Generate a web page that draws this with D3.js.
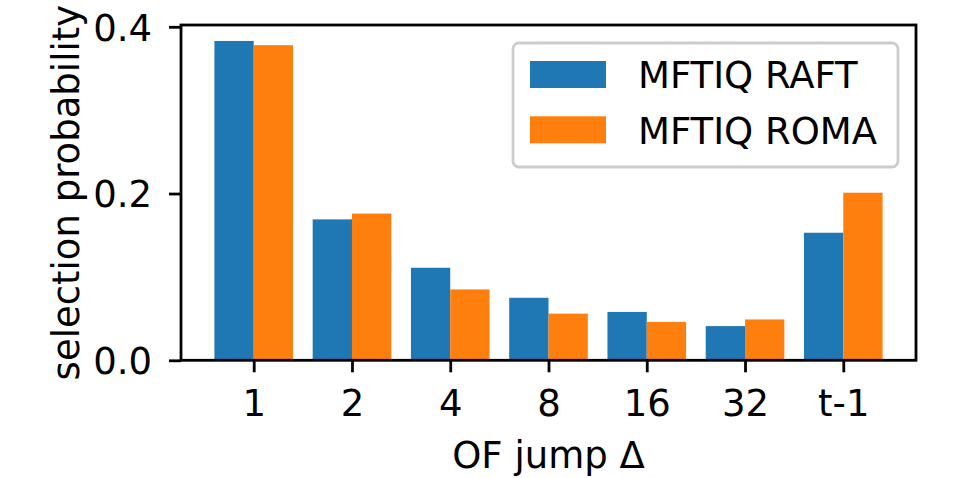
<!DOCTYPE html>
<html>
<head>
<meta charset="utf-8">
<script src="https://cdn.jsdelivr.net/npm/d3@7"></script>
<style>
  html, body { margin: 0; padding: 0; background: #fff; }
  svg { display: block; }
  text { font-family: "DejaVu Sans", sans-serif; fill: #000; }
</style>
</head>
<body>
<svg id="chart" width="957" height="478"></svg>
<script>
const categories = ["1", "2", "4", "8", "16", "32", "t-1"];
const raftValues = [0.383, 0.169, 0.111, 0.075, 0.058, 0.041, 0.153];
const romaValues = [0.378, 0.176, 0.085, 0.056, 0.046, 0.049, 0.201];
const seriesNames = ["MFTIQ RAFT", "MFTIQ ROMA"];
const seriesColors = ["#1f77b4", "#ff7f0e"];
const yTickValues = [0.0, 0.2, 0.4];
const xLabel = "OF jump \u0394";
const yLabel = "selection probability";

(function () {
const svg = d3.select("#chart");
const pLeft = 181, pRight = 916, pTop = 25, pBottom = 360.3;
const lw = 2.8, tickLen = 12, fs = 37, legendFs = 37;

const barW = 0.4;
const n = categories.length;
const xMargin = (n - 1 + 2 * barW) * 0.05;
const x = d3.scaleLinear()
  .domain([-barW - xMargin, n - 1 + barW + xMargin])
  .range([pLeft, pRight]);
const yMax = d3.max([...raftValues, ...romaValues]) * 1.05;
const y = d3.scaleLinear().domain([0, yMax]).range([pBottom, pTop]);

const series = [raftValues, romaValues];

// bars
series.forEach((vals, s) => {
  svg.append("g").selectAll("rect")
    .data(vals)
    .join("rect")
    .attr("x", (d, i) => x(i - barW + s * barW))
    .attr("width", (d, i) => x(i + s * barW) - x(i - barW + s * barW))
    .attr("y", d => y(d))
    .attr("height", d => y(0) - y(d))
    .attr("fill", seriesColors[s]);
});

// y axis
const yAxis = d3.axisLeft(y).tickValues(yTickValues)
  .tickFormat(d3.format(".1f")).tickSize(tickLen).tickPadding(17);
const gy = svg.append("g").attr("transform", `translate(${pLeft},0)`).call(yAxis);
gy.select(".domain").remove();
gy.selectAll(".tick line").attr("stroke", "#000").attr("stroke-width", lw);
gy.selectAll(".tick text").attr("font-size", fs).attr("font-family", "DejaVu Sans")
  .attr("fill", "#000").attr("dy", "0.36em");

// x axis
const xAxis = d3.axisBottom(x).tickValues(d3.range(n))
  .tickFormat(i => categories[i]).tickSize(tickLen).tickPadding(17);
const gx = svg.append("g").attr("transform", `translate(0,${pBottom})`).call(xAxis);
gx.select(".domain").remove();
gx.selectAll(".tick line").attr("stroke", "#000").attr("stroke-width", lw);
gx.selectAll(".tick text").attr("font-size", fs).attr("font-family", "DejaVu Sans")
  .attr("fill", "#000");

// spines
svg.append("rect")
  .attr("x", pLeft).attr("y", pTop)
  .attr("width", pRight - pLeft).attr("height", pBottom - pTop)
  .attr("fill", "none").attr("stroke", "#000").attr("stroke-width", lw)
  .attr("stroke-linecap", "square");

// axis labels
svg.append("text")
  .attr("x", (pLeft + pRight) / 2).attr("y", 468)
  .attr("text-anchor", "middle").attr("font-size", fs)
  .text(xLabel);
svg.append("text")
  .attr("transform", `translate(79,${(pTop + pBottom) / 2}) rotate(-90)`)
  .attr("text-anchor", "middle").attr("font-size", fs)
  .text(yLabel);

// legend
const lg = svg.append("g");
lg.append("rect")
  .attr("x", 513).attr("y", 43).attr("width", 385).attr("height", 124)
  .attr("rx", 6).attr("ry", 6)
  .attr("fill", "#fff").attr("fill-opacity", 0.8)
  .attr("stroke", "#cccccc").attr("stroke-width", lw);
seriesNames.forEach((name, s) => {
  const rowY = 61 + s * 55.3;
  lg.append("rect")
    .attr("x", 530).attr("y", rowY).attr("width", 76).attr("height", 27)
    .attr("fill", seriesColors[s]);
  lg.append("text")
    .attr("x", 638).attr("y", rowY + 27.3)
    .attr("font-size", legendFs)
    .text(name);
});
})();
</script>
</body>
</html>
